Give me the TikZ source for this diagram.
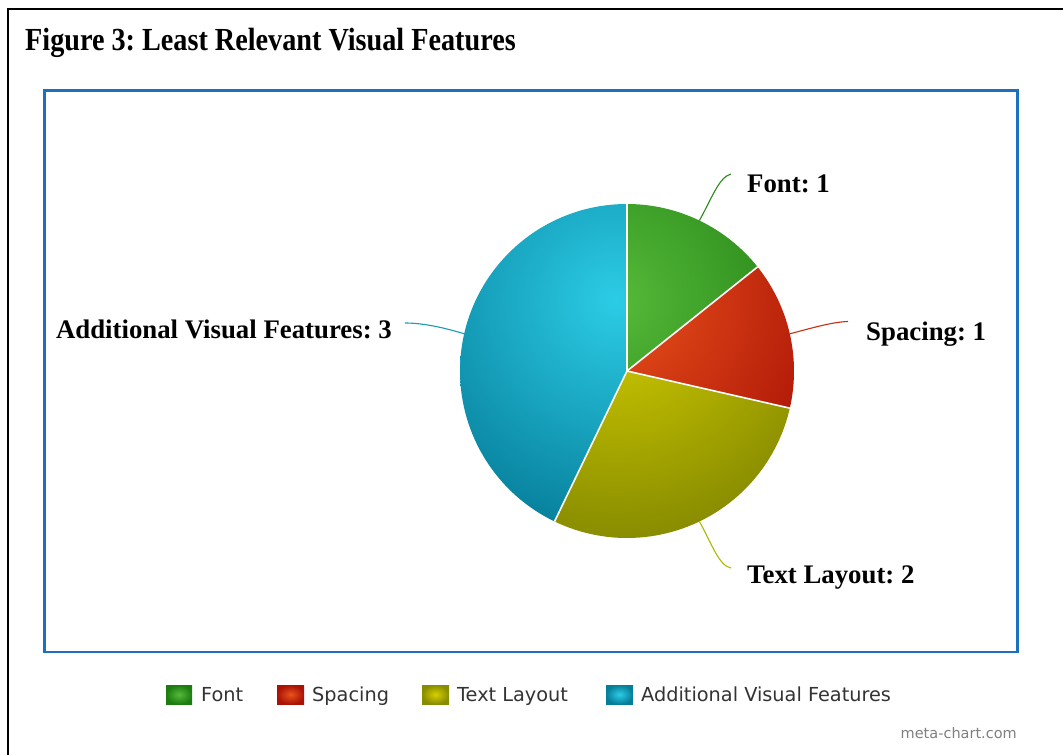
\documentclass[tikz,border=0pt]{standalone}
\usepackage{fontspec}
\setmainfont{Liberation Serif}
\newfontfamily\legfont{DejaVu Sans}
\usepackage{graphicx}
\frenchspacing
\definecolor{frameblue}{RGB}{28,112,190}
\definecolor{gIn}{RGB}{86,186,58}
\definecolor{gOut}{RGB}{28,124,16}
\definecolor{rIn}{RGB}{234,82,28}
\definecolor{rOut}{RGB}{170,18,6}
\definecolor{yIn}{RGB}{214,208,0}
\definecolor{yOut}{RGB}{136,140,0}
\definecolor{bIn}{RGB}{44,204,230}
\definecolor{bOut}{RGB}{6,126,154}
\definecolor{gLine}{RGB}{42,138,26}
\definecolor{rLine}{RGB}{196,48,16}
\definecolor{yLine}{RGB}{176,184,0}
\definecolor{bLine}{RGB}{26,154,184}
\definecolor{legtext}{RGB}{51,51,51}
\begin{document}
\begin{tikzpicture}[x=1pt,y=1pt,
  lbl/.style={inner sep=0pt, font=\bfseries\fontsize{26.8}{30}\selectfont},
  legtxt/.style={inner sep=0pt, anchor=base west, text=legtext, font=\legfont\fontsize{19.3}{22}\selectfont},
  leader/.style={line width=1.1pt}]
\useasboundingbox (0,0) rectangle (1063,-755);
\fill[white] (0,0) rectangle (1063,-755);
% outer frame
\draw[line width=2.2pt] (8,-755) -- (8,-9) -- (1063,-9);
% title
\node[inner sep=0pt, anchor=base west, font=\bfseries\fontsize{28.2}{32}\selectfont] (title) at (25,-50) {\scalebox{1}[1.14]{Figure 3: Least Relevant Visual Features}};
% chart frame
\draw[frameblue, line width=2.7pt] (44.5,-90.7) rectangle (1017.5,-652);
% pie
\coordinate (C) at (627,-371);
\coordinate (H) at (615,-300);
\def\R{167}
\begin{scope}
  \clip (C) -- ++(38.571:\R) arc[start angle=38.571, end angle=90, radius=\R] -- cycle;
  \shade[inner color=gIn, outer color=gOut] (H) circle (240);
\end{scope}
\begin{scope}
  \clip (C) -- ++(-12.857:\R) arc[start angle=-12.857, end angle=38.571, radius=\R] -- cycle;
  \shade[inner color=rIn, outer color=rOut] (H) circle (240);
\end{scope}
\begin{scope}
  \clip (C) -- ++(-115.714:\R) arc[start angle=-115.714, end angle=-12.857, radius=\R] -- cycle;
  \shade[inner color=yIn, outer color=yOut] (H) circle (240);
\end{scope}
\begin{scope}
  \clip (C) -- ++(90:\R) arc[start angle=90, end angle=244.286, radius=\R] -- cycle;
  \shade[inner color=bIn, outer color=bOut] (H) circle (240);
\end{scope}
\foreach \a in {90,38.571,-12.857,-115.714}
  \draw[white, line width=1.6pt] (C) -- ++(\a:\R);
% labels
\node[lbl, anchor=base west] (lfont) at (747,-192) {Font: 1};
\node[lbl, anchor=base west] (lspace) at (866,-340) {Spacing: 1};
\node[lbl, anchor=base west] (llayout) at (747,-583.5) {Text Layout: 2};
\node[lbl, anchor=base east] (ladd) at (392,-338.5) {Additional Visual Features: 3};
% leader lines
\coordinate (pf) at (699.4,-220.5);
\coordinate (ef) at (731,-174);
\coordinate (ps) at (789.8,-333.8);
\coordinate (es) at (848,-321.5);
\coordinate (pl) at (699.4,-521.5);
\coordinate (el) at (731,-568);
\coordinate (pa) at (464.2,-333.8);
\coordinate (ea) at (405,-323);
\draw[leader, gLine] (pf) .. controls (712,-198) and (719,-177) .. (ef);
\draw[leader, rLine] (ps) .. controls (812,-328) and (832,-322) .. (es);
\draw[leader, yLine] (pl) .. controls (712,-544) and (719,-566) .. (el);
\draw[leader, bLine] (pa) .. controls (442,-327) and (422,-323) .. (ea);
% legend
\shade[inner color=gIn, outer color=gOut] (166,-685) rectangle (192,-704);
\node[legtxt] (tf) at (201,-701) {Font};
\shade[inner color=rIn, outer color=rOut] (277,-685) rectangle (304,-704);
\node[legtxt] (ts) at (312,-701) {Spacing};
\shade[inner color=yIn, outer color=yOut] (422,-685) rectangle (449,-704);
\node[legtxt] (tl) at (457,-701) {Text Layout};
\shade[inner color=bIn, outer color=bOut] (606,-685) rectangle (633,-704);
\node[legtxt] (ta) at (641,-701) {Additional Visual Features};
% credit
\node[inner sep=0pt, anchor=base east, text=gray, font=\legfont\fontsize{14.5}{16}\selectfont] (credit) at (1017,-738) {meta-chart.com};
\end{tikzpicture}
\end{document}
